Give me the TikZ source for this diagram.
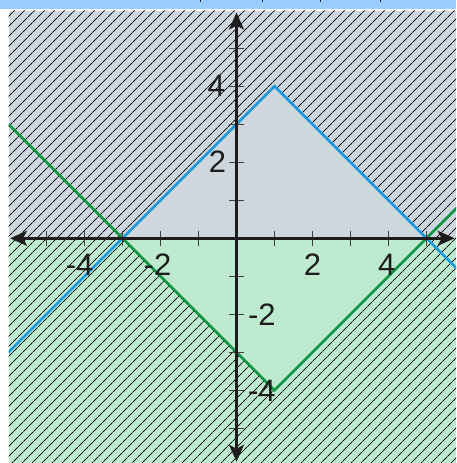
\documentclass[tikz,border=0pt]{standalone}
\usepackage{fontspec}
\setmainfont{Liberation Sans}
\usetikzlibrary{arrows.meta,patterns.meta}
\definecolor{topbar}{HTML}{99CCFF}
\definecolor{upfill}{HTML}{CDD7DD}
\definecolor{lowfill}{HTML}{BEEBCF}
\definecolor{blueline}{HTML}{1B9AE0}
\definecolor{greenline}{HTML}{139443}
\definecolor{ink}{HTML}{1E1C1D}
\tikzset{
  axisline/.style={line width=2.6pt, draw=ink, {Stealth[length=17pt,width=15pt,inset=4pt]}-{Stealth[length=17pt,width=15pt,inset=4pt]}},
  tickmark/.style={line width=1.2pt, draw=ink!85},
  lbl/.style={inner sep=0pt, text=ink, font=\fontsize{31}{31}\selectfont},
  bound/.style={line width=2.6pt, line join=miter},
  hatch/.style={pattern={Lines[angle=45,distance=7.4pt,line width=1pt]}, pattern color=black},
}
\begin{document}
\begin{tikzpicture}[x=38pt,y=38pt]
\useasboundingbox (-6.224,-5.913) rectangle (5.776,6.271);
% top bar
\fill[topbar] (-6.224,6.034) rectangle (5.776,6.271);
\foreach \p in {200,262,320,380}{
  \draw[line width=0.8pt, ink] ({(\p-236.5)/38},6.271) -- ({(\p-236.5)/38},6.22);
}
% plot area
\begin{scope}
\clip (-6,-5.913) rectangle (5.776,5.99);
\fill[upfill] (-6,0) rectangle (5.776,5.99);
\fill[lowfill] (-6,-5.913) rectangle (5.776,0);
\fill[hatch, even odd rule] (-6,-6) rectangle (6,6) (-3,0) -- (1,4) -- (5,0) -- (1,-4) -- cycle;
\coordinate (bL) at (-6,-3);
\coordinate (bP) at (1,4);
\coordinate (bR) at (6.5,-1.5);
\coordinate (gL) at (-6,3);
\coordinate (gP) at (1,-4);
\coordinate (gR) at (6.5,1.5);
\draw[bound, blueline] (bL) -- (bP) -- (bR);
\draw[bound, greenline] (gL) -- (gP) -- (gR);
\end{scope}
% axes
\coordinate (xl) at (-5.96,0);
\coordinate (xr) at (5.74,0);
\coordinate (yb) at (0,-5.88);
\coordinate (yt) at (0,5.94);
\foreach \i in {-5,...,-1,1,2,3,4,5}{
  \draw[tickmark] (\i,-0.2) -- (\i,0.2);
  \draw[tickmark] (-0.2,\i) -- (0.2,\i);
}
\draw[axisline] (xl) -- (xr);
\draw[axisline] (yb) -- (yt);
% labels
\node[lbl, anchor=north] (lxm4) at (-4.13,-0.413) {-4};
\node[lbl, anchor=north] (lxm2) at (-2.08,-0.413) {-2};
\node[lbl, anchor=north] (lx2) at (2.0,-0.413) {2};
\node[lbl, anchor=north] (lx4) at (3.95,-0.413) {4};
\node[lbl, anchor=east] (ly4) at (-0.30,4.0) {4};
\node[lbl, anchor=east] (ly2) at (-0.27,2.02) {2};
\node[lbl, anchor=west] (lym2) at (0.30,-2.02) {-2};
\node[lbl, anchor=west] (lym4) at (0.30,-4.02) {-4};
\end{tikzpicture}
\end{document}
